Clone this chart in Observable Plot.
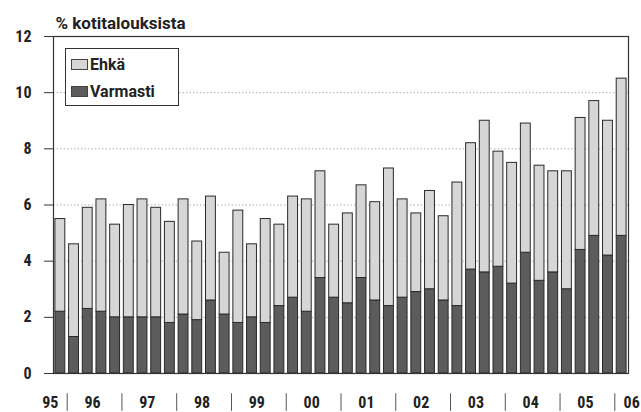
<!DOCTYPE html>
<html>
<head>
<meta charset="utf-8">
<script src="https://cdn.jsdelivr.net/npm/d3@7"></script>
<script src="https://cdn.jsdelivr.net/npm/@observablehq/plot@0.6"></script>
<style>
  html, body { margin: 0; padding: 0; background: #fff; }
  #wrap { position: relative; width: 641px; height: 412px; font-family: "Roboto Condensed", "Liberation Sans Narrow", "DejaVu Sans Condensed", sans-serif; }
  #legend { position: absolute; left: 65px; top: 48px; width: 112px; height: 56px; border: 1px solid #333; background: #fff; font-family: Roboto, "Liberation Sans", sans-serif; font-size: 16px; font-weight: bold; color: #222; }
  .item { position: absolute; left: 5px; display: flex; align-items: center; }
  .sw { width: 17px; height: 11px; border: 1px solid #444; margin-right: 2px; box-sizing: border-box; }
</style>
</head>
<body>
<div id="wrap">
  <div id="chart"></div>
  <div id="legend">
    <div class="item" style="top:6px"><span class="sw" style="background:#d6d6d6"></span><span>Ehkä</span></div>
    <div class="item" style="top:33px"><span class="sw" style="background:#5c5c5c"></span><span>Varmasti</span></div>
  </div>
</div>
<script>
// Quarterly data, 1995 Q4 – 2006 Q1 (% of households)
const total = [5.5,4.6,5.9,6.2,5.3,6.0,6.2,5.9,5.4,6.2,4.7,6.3,4.3,5.8,4.6,5.5,5.3,6.3,6.2,7.2,5.3,5.7,6.7,6.1,7.3,6.2,5.7,6.5,5.6,6.8,8.2,9.0,7.9,7.5,8.9,7.4,7.2,7.2,9.1,9.7,9.0,10.5];
const varmasti = [2.2,1.3,2.3,2.2,2.0,2.0,2.0,2.0,1.8,2.1,1.9,2.6,2.1,1.8,2.0,1.8,2.4,2.7,2.2,3.4,2.7,2.5,3.4,2.6,2.4,2.7,2.9,3.0,2.6,2.4,3.7,3.6,3.8,3.2,4.3,3.3,3.6,3.0,4.4,4.9,4.2,4.9];
const years = ["95","96","97","98","99","00","01","02","03","04","05","06"];
const quartersPerYear = [1,4,4,4,4,4,4,4,4,4,4,1];
const yTicks = [0,2,4,6,8,10,12];

const rows = total.map((t, i) => ({i, total: t, varmasti: varmasti[i]}));
let start = 0;
const yearRows = years.map((y, k) => {
  const r = {label: y, start, end: start + quartersPerYear[k]};
  start += quartersPerYear[k];
  return r;
});
const boundaries = yearRows.slice(1).map(d => d.start);
const mid = d => (d.start + d.end) / 2;

const font = '"Roboto Condensed", "Liberation Sans Narrow", "DejaVu Sans Condensed", sans-serif';

const chart = Plot.plot({
  width: 641,
  height: 412,
  marginLeft: 53,
  marginRight: 13,
  marginTop: 36,
  marginBottom: 39,
  style: {fontFamily: font, fontSize: "15px", color: "#222", background: "#fff"},
  x: {domain: [0, total.length], axis: null},
  y: {domain: [0, 12], axis: null},
  marks: [
    Plot.ruleY([2,4,6,8,10], {stroke: "#b0b0b0", strokeDasharray: "1.5,2", strokeWidth: 1}),
    Plot.rectY(rows, {x1: d => d.i, x2: d => d.i + 1, y1: 0, y2: "varmasti", fill: "#5c5c5c", stroke: "#2a2a2a", strokeWidth: 1, insetLeft: 1.9, insetRight: 1.9}),
    Plot.rectY(rows, {x1: d => d.i, x2: d => d.i + 1, y1: "varmasti", y2: "total", fill: "#d6d6d6", stroke: "#2a2a2a", strokeWidth: 1, insetLeft: 1.9, insetRight: 1.9}),
    Plot.frame({stroke: "#333", strokeWidth: 1.2}),
    Plot.axisY({ticks: yTicks, tickSize: 9, tickPadding: 13, tickFormat: d => String(d), fontWeight: "bold", fontSize: 16, label: null, stroke: "#333"}),
    Plot.ruleX(boundaries, {x: d => d, y1: -0.72, y2: -1.35, stroke: "#555", strokeWidth: 1}),
    Plot.text(yearRows.slice(1, -1), {x: mid, y: -1.05, text: "label", fontWeight: "bold", fontSize: 16, dx: -2, fill: "#222"}),
    Plot.text(yearRows.slice(0, 1), {x: mid, y: -1.05, text: "label", fontWeight: "bold", fontSize: 16, dx: -10, fill: "#222"}),
    Plot.text(yearRows.slice(-1), {x: mid, y: -1.05, text: "label", fontWeight: "bold", fontSize: 16, dx: 10, fill: "#222"}),
    Plot.text(["% kotitalouksista"], {frameAnchor: "top-left", text: d => d, textAnchor: "start", lineAnchor: "bottom", dx: 2, dy: -8, fontFamily: "Roboto, 'Liberation Sans', sans-serif", fontWeight: "bold", fontSize: 17, fill: "#222"})
  ]
});
document.getElementById("chart").appendChild(chart);
</script>
</body>
</html>
